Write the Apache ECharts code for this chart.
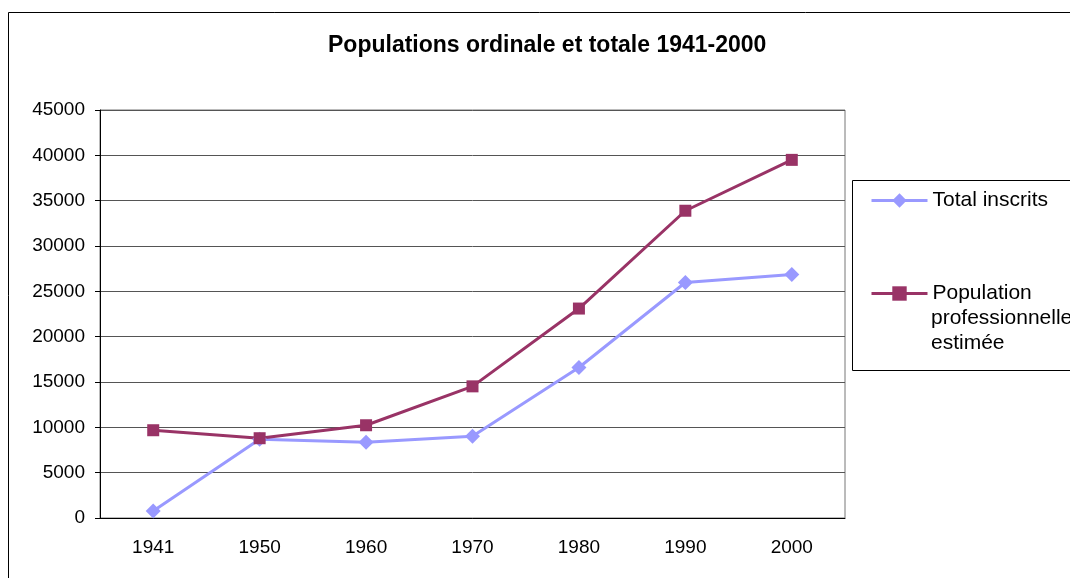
<!DOCTYPE html>
<html>
<head>
<meta charset="utf-8">
<script src="https://cdn.jsdelivr.net/npm/echarts@6/dist/echarts.min.js"></script>
<style>
  html, body { margin: 0; padding: 0; background: #fff; }
  #main { width: 1070px; height: 578px; }
</style>
</head>
<body>
<div id="main"></div>
<script>
// data
const years = ['1941', '1950', '1960', '1970', '1980', '1990', '2000']
const totalInscrits = [770, 8690, 8360, 9020, 16600, 25970, 26850]
const populationPro = [9680, 8800, 10230, 14520, 23100, 33890, 39500]
const yTicks = [0, 5000, 10000, 15000, 20000, 25000, 30000, 35000, 40000, 45000]

const font = 'Arial, "Liberation Sans", sans-serif'

const myChart = echarts.init(document.getElementById('main'))
myChart.setOption({
    animation: false,
    title: {
        text: 'Populations ordinale et totale 1941-2000',
        left: 328,
        top: 34,
        padding: 0,
        textStyle: { color: '#000', fontFamily: font, fontSize: 23, fontWeight: 'bold' }
    },
    grid: {
        left: 100, right: 225, top: 110, bottom: 60,
        show: true, borderColor: '#777', borderWidth: 1
    },
    legend: {
        orient: 'vertical',
        left: 870,
        top: 190,
        padding: 0,
        itemGap: 72,
        itemWidth: 56,
        itemHeight: 18,
        lineStyle: { width: 3 },
        textStyle: { color: '#000', fontFamily: font, fontSize: 21 },
        formatter: function (name) {
            return name.split('\n')[0]
        },
        data: ['Total inscrits', 'Population\nprofessionnelle\nestimée']
    },
    xAxis: {
        type: 'category',
        data: years,
        boundaryGap: true,
        axisLine: { lineStyle: { color: '#000', width: 1 } },
        axisTick: { length: 5, lineStyle: { color: '#000' } },
        axisLabel: { color: '#000', fontFamily: font, fontSize: 19, margin: 20 }
    },
    yAxis: {
        type: 'value',
        min: yTicks[0],
        max: yTicks[yTicks.length - 1],
        interval: yTicks[1] - yTicks[0],
        axisLine: { show: true, lineStyle: { color: '#000', width: 1 } },
        axisTick: { show: true, length: 5, lineStyle: { color: '#000' } },
        axisLabel: {
            color: '#000', fontFamily: font, fontSize: 19, margin: 15,
            formatter: function (v) { return String(v) }
        },
        splitLine: { lineStyle: { color: '#555', width: 1 } }
    },
    series: [
        {
            name: 'Total inscrits',
            type: 'line',
            data: totalInscrits,
            symbol: 'diamond',
            symbolSize: 15,
            lineStyle: { color: '#9999FF', width: 3 },
            itemStyle: { color: '#9999FF' }
        },
        {
            name: 'Population\nprofessionnelle\nestimée',
            type: 'line',
            data: populationPro,
            symbol: 'rect',
            symbolSize: 12,
            lineStyle: { color: '#993366', width: 3 },
            itemStyle: { color: '#993366' }
        }
    ],
    graphic: [
        {
            type: 'rect',
            shape: { x: 8.5, y: 12.5, width: 1100, height: 600 },
            style: { fill: 'none', stroke: '#000', lineWidth: 1 },
            silent: true
        },
        {
            type: 'rect',
            shape: { x: 852.5, y: 180.5, width: 300, height: 190 },
            style: { fill: 'none', stroke: '#000', lineWidth: 1 },
            silent: true
        },
        {
            type: 'text',
            left: 931,
            top: 306,
            style: {
                text: 'professionnelle\nestimée',
                fill: '#000',
                font: '21px ' + font,
                lineHeight: 25
            },
            silent: true
        }
    ]
})
</script>
</body>
</html>
